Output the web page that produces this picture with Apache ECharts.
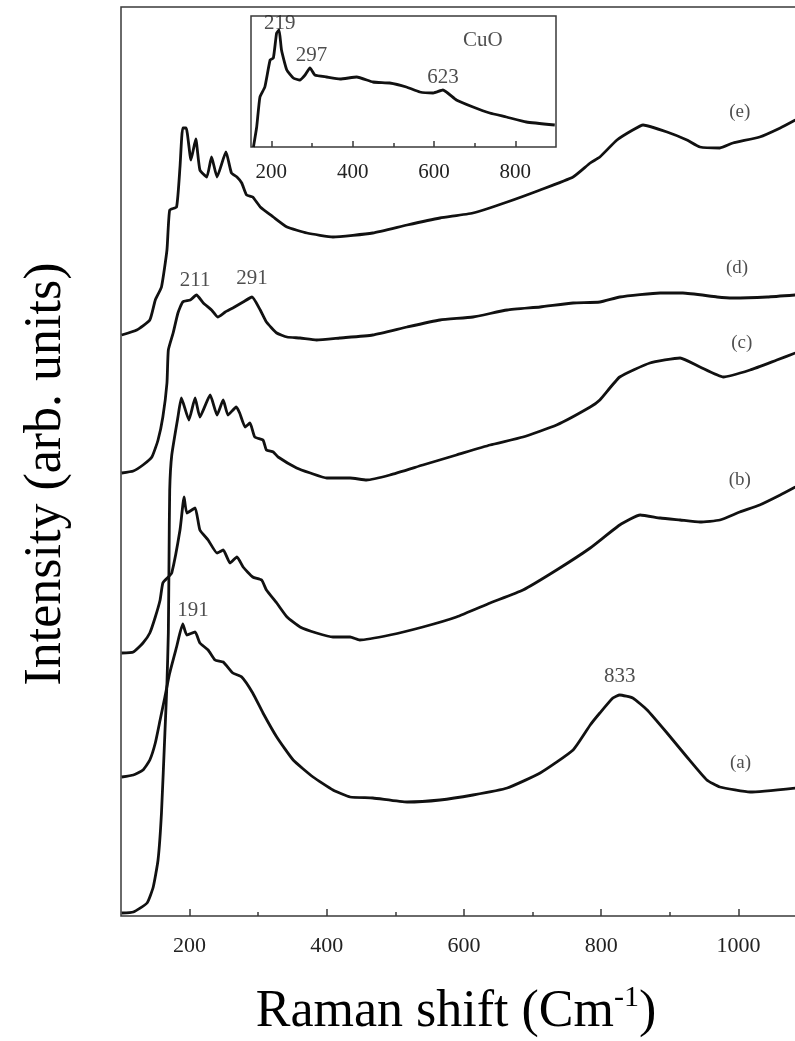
<!DOCTYPE html>
<html>
<head>
<meta charset="utf-8">
<script src="https://cdn.jsdelivr.net/npm/echarts@6/dist/echarts.min.js"></script>
<style>
  html, body { margin: 0; padding: 0; background: #fff; }
  #chart { width: 795px; height: 1041px; }
</style>
</head>
<body>
<div id="chart"></div>
<script>
// spectra, [Raman shift, intensity (arb. units, already offset)]
const specA = [[101,139],[118,141],[132,146],[142,156],[150,173],[157,196],[164,219],[171,243],[181,269],[190,292],[196,281],[208,284],[215,273],[227,266],[237,256],[249,254],[263,243],[276,239],[292,223],[307,203],[327,179],[351,156],[380,139],[409,126],[434,119],[467,118],[517,114],[565,116],[613,121],[663,128],[711,143],[759,166],[784,191],[798,203],[817,218],[827,221],[846,218],[867,206],[896,183],[925,159],[954,136],[973,129],[1017,124],[1083,128]]
const specB = [[101,263],[118,264],[132,273],[142,283],[150,299],[157,316],[161,333],[169,339],[174,343],[186,386],[192,419],[196,403],[208,408],[215,386],[227,376],[240,363],[249,366],[259,353],[269,359],[278,349],[292,339],[305,336],[312,326],[327,313],[342,299],[361,289],[385,283],[409,279],[434,279],[448,276],[492,281],[540,289],[589,299],[638,313],[686,326],[735,346],[784,368],[827,391],[857,401],[886,398],[915,396],[944,394],[973,396],[1002,404],[1031,411],[1061,421],[1083,429]]
const specC = [[101,3],[118,4],[138,13],[147,29],[154,56],[159,103],[164,183],[167,233],[169,283],[170,356],[171,426],[174,461],[183,499],[188,518],[199,496],[208,518],[215,499],[230,521],[240,501],[249,516],[256,501],[268,509],[273,503],[281,489],[288,493],[295,479],[307,476],[312,466],[322,464],[329,459],[356,448],[376,443],[400,438],[434,438],[458,436],[492,441],[540,451],[589,461],[638,471],[686,479],[735,491],[784,509],[798,516],[827,539],[871,553],[915,558],[944,549],[978,539],[1017,546],[1056,556],[1083,563]]
const specD = [[101,443],[118,445],[132,451],[145,459],[154,476],[161,499],[167,533],[169,566],[176,583],[183,603],[190,614],[201,616],[210,621],[220,613],[232,606],[241,599],[252,604],[263,608],[278,614],[291,619],[303,606],[312,594],[327,583],[342,579],[361,578],[385,576],[419,578],[467,581],[517,589],[565,596],[613,599],[663,606],[711,609],[759,613],[798,614],[827,619],[886,623],[919,623],[969,619],[992,618],[1042,619],[1083,621]]
const specE = [[101,581],[123,586],[142,596],[150,616],[159,629],[167,666],[171,706],[181,709],[186,749],[190,788],[195,788],[202,756],[209,777],[215,746],[225,739],[232,759],[240,739],[253,764],[261,743],[269,739],[276,733],[283,721],[292,719],[303,709],[322,699],[342,689],[371,683],[409,679],[467,683],[517,691],[565,698],[613,703],[663,714],[711,726],[759,739],[784,753],[798,759],[823,776],[846,786],[861,791],[896,784],[925,776],[944,769],[973,768],[992,773],[1031,779],[1061,788],[1083,796]]
// inset: bulk CuO
const cuo = [[156,0],[164,20],[172,50],[184,60],[197,87],[205,89],[213,114],[219,117],[225,97],[238,77],[254,69],[270,67],[283,72],[295,79],[307,72],[336,70],[369,68],[410,70],[450,65],[491,64],[532,60],[565,55],[598,54],[622,57],[655,47],[696,40],[737,34],[778,30],[827,25],[897,22]]

const mainTicks = [200, 400, 600, 800, 1000]
const mainMinor = [300, 500, 700, 900]
const insetTicks = [200, 400, 600, 800]
const insetMinor = [300, 500, 700]

// [text, shift, intensity] where the text sits
const curveTags = [['(a)', 1003, 153], ['(b)', 1002, 436], ['(c)', 1005, 573], ['(d)', 998, 648], ['(e)', 1002, 804]]
const peakTags = [['191', 205, 306], ['211', 208, 636], ['291', 291, 638], ['833', 827, 240]]
const insetTags = [['219', 221, 124], ['297', 299, 92], ['623', 622, 70], ['CuO', 720, 107]]

const FONT = 'Liberation Serif'
const INK = '#111'
const FRAME = '#3a3a3a'

const chart = echarts.init(document.getElementById('chart'))

const mainGrid = { left: 121, top: 7, width: 686, height: 909, outerBoundsMode: 'none', containLabel: false }
const insetGrid = { left: 251, top: 16, width: 305, height: 131, outerBoundsMode: 'none', containLabel: false }

const xAxisBase = (gridIndex, min, max) => ({
  type: 'value',
  gridIndex,
  min,
  max,
  axisLine: { show: false },
  splitLine: { show: false },
  axisTick: { show: false },
  axisLabel: { show: false },
})
const yAxisBase = (gridIndex, max) => ({
  type: 'value',
  gridIndex,
  min: 0,
  max,
  axisLine: { show: false },
  splitLine: { show: false },
  axisTick: { show: false },
  axisLabel: { show: false },
})

const lineSeries = (data, xi) => ({
  type: 'line',
  data,
  xAxisIndex: xi,
  yAxisIndex: xi,
  showSymbol: false,
  smooth: 0.15,
  lineStyle: { color: INK, width: 2.8 },
  silent: true,
})

const tagSeries = (tags, xi, size) => ({
  type: 'scatter',
  xAxisIndex: xi,
  yAxisIndex: xi,
  symbolSize: 0,
  data: tags.map(t => ({ name: t[0], value: [t[1], t[2]] })),
  label: {
    show: true,
    position: 'inside',
    formatter: '{b}',
    color: '#222',
    fontFamily: FONT,
    fontSize: size,
  },
  silent: true,
})

const option = {
  animation: false,
  backgroundColor: '#fff',
  grid: [
    { ...mainGrid, show: true, borderColor: FRAME, borderWidth: 1.5 },
    { ...mainGrid },
    { ...insetGrid, show: true, borderColor: FRAME, borderWidth: 1.5, backgroundColor: '#fff' },
    { ...insetGrid },
  ],
  xAxis: [
    {
      ...xAxisBase(0, 100, 1100),
      axisTick: { show: true, inside: true, length: 7, customValues: mainTicks, lineStyle: { color: FRAME, width: 1.5 } },
      axisLabel: { show: true, customValues: mainTicks, formatter: v => String(v), margin: 19, color: '#222', fontFamily: FONT, fontSize: 22 },
    },
    {
      ...xAxisBase(1, 100, 1100),
      axisTick: { show: true, inside: true, length: 4, customValues: mainMinor, lineStyle: { color: FRAME, width: 1.5 } },
    },
    {
      ...xAxisBase(2, 150, 900),
      axisTick: { show: true, inside: true, length: 6, customValues: insetTicks, lineStyle: { color: FRAME, width: 1.5 } },
      axisLabel: { show: true, customValues: insetTicks, formatter: v => String(v), margin: 15, color: '#222', fontFamily: FONT, fontSize: 21 },
    },
    {
      ...xAxisBase(3, 150, 900),
      axisTick: { show: true, inside: true, length: 4, customValues: insetMinor, lineStyle: { color: FRAME, width: 1.5 } },
    },
  ],
  yAxis: [yAxisBase(0, 909), yAxisBase(1, 909), yAxisBase(2, 131), yAxisBase(3, 131)],
  series: [
    lineSeries(specA, 0),
    lineSeries(specB, 0),
    lineSeries(specC, 0),
    lineSeries(specD, 0),
    lineSeries(specE, 0),
    lineSeries(cuo, 2),
    tagSeries(curveTags, 0, 19),
    tagSeries(peakTags, 0, 21),
    tagSeries(insetTags, 2, 21),
  ],
  graphic: [
    {
      type: 'text',
      x: 456,
      y: 1012,
      style: {
        text: '{n|Raman shift (Cm}{s|-1}{n|)}',
        align: 'center',
        verticalAlign: 'middle',
        fill: '#000',
        rich: {
          n: { fontFamily: FONT, fontSize: 52, lineHeight: 58, fill: '#000' },
          s: { fontFamily: FONT, fontSize: 30, lineHeight: 50, verticalAlign: 'top', fill: '#000' },
        },
      },
    },
    {
      type: 'text',
      x: 46,
      y: 474,
      rotation: Math.PI / 2,
      style: {
        text: 'Intensity (arb. units)',
        align: 'center',
        verticalAlign: 'middle',
        fontFamily: FONT,
        fontSize: 52,
        fill: '#000',
      },
    },
  ],
}

chart.setOption(option)
</script>
</body>
</html>
